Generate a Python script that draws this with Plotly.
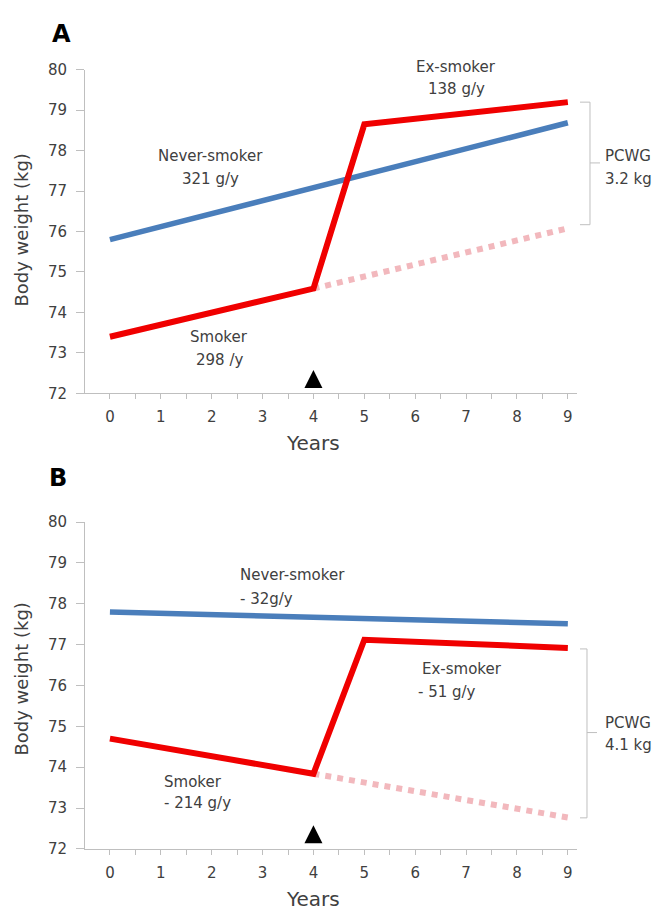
import plotly.graph_objects as go

# ---------------- data ----------------
years = [0, 1, 2, 3, 4, 5, 6, 7, 8, 9]
x_tick_labels = ["0", "1", "2", "3", "4", "5", "6", "7", "8", "9"]
y_tick_vals = [72, 73, 74, 75, 76, 77, 78, 79, 80]

# Panel A
a_never = [75.80, 76.12, 76.44, 76.76, 77.08, 77.41, 77.73, 78.05, 78.37, 78.69]
a_smoker_ex = [73.40, 73.70, 74.00, 74.29, 74.59, 78.65, 78.79, 78.93, 79.06, 79.20]
proj_years = [4, 5, 6, 7, 8, 9]
a_projection = [74.59, 74.89, 75.19, 75.49, 75.78, 76.08]

# Panel B
b_never = [77.80, 77.77, 77.74, 77.70, 77.67, 77.64, 77.61, 77.58, 77.54, 77.51]
b_smoker_ex = [74.70, 74.49, 74.27, 74.06, 73.84, 77.12, 77.07, 77.02, 76.97, 76.92]
b_projection = [73.84, 73.63, 73.42, 73.20, 72.99, 72.77]

quit_year = [4]
quit_marker_y = [72.58]  # apex of the quit-year triangle

W, H = 655, 920
FONT = "DejaVu Sans"
TXT = "#404040"
BLUE = "#4a7ebb"
RED = "#f00000"
PINK = "#f2b8bd"
GRAY = "#bfbfbf"


def px(x):
    return x / W


def py(y):
    return 1 - y / H


fig = go.Figure()

for xa, ya, never, red, proj in [("x", "y", a_never, a_smoker_ex, a_projection),
                                  ("x2", "y2", b_never, b_smoker_ex, b_projection)]:
    fig.add_trace(go.Scatter(x=proj_years, y=proj, mode="lines", xaxis=xa, yaxis=ya,
                             line=dict(color=PINK, width=6, dash="dot"), showlegend=False))
    fig.add_trace(go.Scatter(x=years, y=never, mode="lines", xaxis=xa, yaxis=ya,
                             line=dict(color=BLUE, width=5.5), showlegend=False))
    fig.add_trace(go.Scatter(x=years, y=red, mode="lines", xaxis=xa, yaxis=ya,
                             line=dict(color=RED, width=6), showlegend=False))
    fig.add_trace(go.Scatter(x=quit_year, y=quit_marker_y, mode="markers", xaxis=xa, yaxis=ya,
                             marker=dict(symbol="arrow-up", size=18, color="black",
                                         line=dict(width=0)),
                             cliponaxis=False, showlegend=False))

xdom = [px(85), px(577)]
ydomA = [py(392), py(62)]
ydomB = [py(856.7), py(523.3)]

xcommon = dict(range=[-0.49, 9.18], tickvals=years, ticktext=x_tick_labels,
               showline=True, linecolor=GRAY, linewidth=1, ticks="outside", ticklen=5,
               tickcolor=GRAY, showgrid=False, zeroline=False,
               minor=dict(ticks="outside", dtick=0.5, tick0=0, ticklen=5, tickcolor=GRAY),
               tickfont=dict(family=FONT, size=15, color=TXT), ticklabelstandoff=5,
               domain=xdom, fixedrange=True)
ycommon = dict(range=[72, 80], tickvals=y_tick_vals, showline=True, linecolor=GRAY,
               linewidth=1, ticks="outside", ticklen=8, tickcolor=GRAY, showgrid=False,
               zeroline=False, tickfont=dict(family=FONT, size=15, color=TXT),
               ticklabelstandoff=6, fixedrange=True)

fig.update_layout(
    width=W, height=H, autosize=False,
    margin=dict(l=0, r=0, t=0, b=0),
    paper_bgcolor="white", plot_bgcolor="white",
    xaxis=dict(**xcommon, anchor="y"),
    yaxis=dict(**ycommon, domain=ydomA, anchor="x"),
    xaxis2=dict(**xcommon, anchor="y2"),
    yaxis2=dict(**ycommon, domain=ydomB, anchor="x2"),
)

ann = []


def text(t, x, y, size=15, xanchor="center", color=TXT, bold=False, angle=0):
    ann.append(dict(text=("<b>%s</b>" % t) if bold else t, x=px(x), y=py(y),
                    xref="paper", yref="paper", xanchor=xanchor, yanchor="middle",
                    showarrow=False, textangle=angle,
                    font=dict(family=FONT, size=size, color=color)))


# Panel letters
text("A", 61, 26, size=24, color="black", bold=True)
text("B", 58, 478, size=24, color="black", bold=True)

# Axis titles
text("Body weight (kg)", 22, 226, size=18, angle=-90)
text("Body weight (kg)", 22, 684, size=18, angle=-90)
text("Years", 313, 443, size=20)
text("Years", 313, 908, size=20)

# Panel A labels
text("Never-smoker", 210, 150)
text("321 g/y", 210, 173)
text("Smoker", 219, 335)
text("298 /y", 219, 358)
text("Ex-smoker", 456, 59)
text("138 g/y", 456, 82)
text("PCWG", 603, 150, xanchor="left")
text("3.2 kg", 603, 173, xanchor="left")

# Panel B labels
text("Never-smoker", 238, 577, xanchor="left")
text("- 32g/y", 238, 602, xanchor="left")
text("Smoker", 162, 788, xanchor="left")
text("- 214 g/y", 162, 810, xanchor="left")
text("Ex-smoker", 420, 673, xanchor="left")
text("- 51 g/y", 416, 697, xanchor="left")
text("PCWG", 603, 728, xanchor="left")
text("4.1 kg", 603, 751, xanchor="left")

fig.update_layout(annotations=ann)

# PCWG brackets
shapes = []
for (xl, xv, xt, ytop, ybot, ymid) in [(580, 590, 600, 95, 220, 157),
                                        (580, 587, 597, 652.7, 825, 738)]:
    path = "M %f,%f L %f,%f L %f,%f L %f,%f M %f,%f L %f,%f" % (
        px(xl), py(ytop), px(xv), py(ytop), px(xv), py(ybot), px(xl), py(ybot),
        px(xv), py(ymid), px(xt), py(ymid))
    shapes.append(dict(type="path", path=path, xref="paper", yref="paper",
                       line=dict(color=GRAY, width=1)))
fig.update_layout(shapes=shapes)

fig.write_html("out.html")
